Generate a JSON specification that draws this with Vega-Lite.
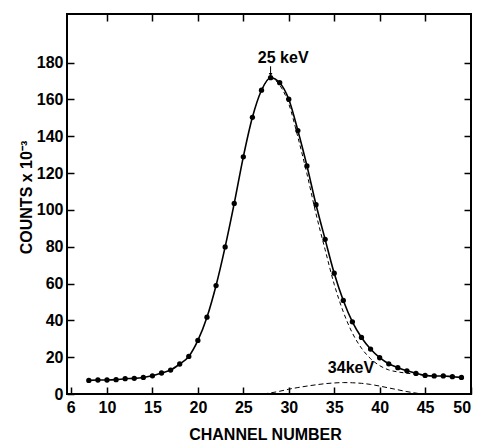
{
  "$schema": "https://vega.github.io/schema/vega-lite/v6.json",
  "width": 404,
  "height": 380,
  "autosize": {"type": "none"},
  "padding": {"left": 67, "top": 14, "right": 9, "bottom": 47},
  "background": "white",
  "config": {
    "view": {"stroke": "black", "strokeWidth": 2},
    "font": "Liberation Sans",
    "axis": {"domain": false, "grid": false, "tickColor": "black", "tickWidth": 1.5, "labelColor": "black", "titleColor": "black", "labelFont": "Liberation Sans", "titleFont": "Liberation Sans", "labelFontWeight": "bold", "titleFontWeight": "bold"}
  },
  "datasets": {
    "points": [
      {"channel": 8, "counts": 7.4}, {"channel": 9, "counts": 7.6}, {"channel": 10, "counts": 7.6},
      {"channel": 11, "counts": 7.8}, {"channel": 12, "counts": 8.3}, {"channel": 13, "counts": 8.5},
      {"channel": 14, "counts": 9.0}, {"channel": 15, "counts": 9.9}, {"channel": 16, "counts": 11.4},
      {"channel": 17, "counts": 13.0}, {"channel": 18, "counts": 16.3}, {"channel": 19, "counts": 20.4},
      {"channel": 20, "counts": 29.1}, {"channel": 21, "counts": 41.7}, {"channel": 22, "counts": 58.9},
      {"channel": 23, "counts": 79.9}, {"channel": 24, "counts": 103.5}, {"channel": 25, "counts": 128.8},
      {"channel": 26, "counts": 150.3}, {"channel": 27, "counts": 165.0}, {"channel": 28, "counts": 171.8},
      {"channel": 29, "counts": 169.1}, {"channel": 30, "counts": 160.1}, {"channel": 31, "counts": 143.1},
      {"channel": 32, "counts": 123.9}, {"channel": 33, "counts": 102.8}, {"channel": 34, "counts": 84.0},
      {"channel": 35, "counts": 65.6}, {"channel": 36, "counts": 50.8}, {"channel": 37, "counts": 39.2},
      {"channel": 38, "counts": 30.7}, {"channel": 39, "counts": 24.4}, {"channel": 40, "counts": 19.7},
      {"channel": 41, "counts": 16.4}, {"channel": 42, "counts": 14.3}, {"channel": 43, "counts": 12.6},
      {"channel": 44, "counts": 11.2}, {"channel": 45, "counts": 10.1}, {"channel": 46, "counts": 9.8},
      {"channel": 47, "counts": 9.8}, {"channel": 48, "counts": 9.4}, {"channel": 49, "counts": 9.0}
    ],
    "peak25": [
      {"channel": 27, "counts": 165.0}, {"channel": 28, "counts": 171.4}, {"channel": 29, "counts": 167.8},
      {"channel": 30, "counts": 157.6}, {"channel": 31, "counts": 139.6}, {"channel": 32, "counts": 119.6},
      {"channel": 33, "counts": 97.8}, {"channel": 34, "counts": 78.4}, {"channel": 35, "counts": 59.6},
      {"channel": 36, "counts": 44.6}, {"channel": 37, "counts": 33.1}, {"channel": 38, "counts": 24.9},
      {"channel": 39, "counts": 19.2}, {"channel": 40, "counts": 15.4}, {"channel": 41, "counts": 13.1},
      {"channel": 42, "counts": 12.0}, {"channel": 43, "counts": 11.3}, {"channel": 44, "counts": 10.7},
      {"channel": 45, "counts": 10.1}
    ],
    "peak34": [
      {"channel": 27.2, "counts": 0}, {"channel": 28, "counts": 0.6}, {"channel": 29, "counts": 1.5},
      {"channel": 30, "counts": 2.6}, {"channel": 31, "counts": 3.5}, {"channel": 32, "counts": 4.3},
      {"channel": 33, "counts": 5.0}, {"channel": 34, "counts": 5.6}, {"channel": 35, "counts": 6.0},
      {"channel": 36, "counts": 6.2}, {"channel": 37, "counts": 6.1}, {"channel": 38, "counts": 5.8},
      {"channel": 39, "counts": 5.2}, {"channel": 40, "counts": 4.3}, {"channel": 41, "counts": 3.3},
      {"channel": 42, "counts": 2.3}, {"channel": 43, "counts": 1.3}, {"channel": 44, "counts": 0.5},
      {"channel": 44.6, "counts": 0}
    ],
    "labels": [
      {"channel": 26.6, "counts": 180, "text": "25 keV"},
      {"channel": 34.3, "counts": 11.5, "text": "34keV"}
    ],
    "arrow": [
      {"channel": 28, "y1": 178, "y2": 173.5}
    ]
  },
  "layer": [
    {
      "data": {"name": "points"},
      "mark": {"type": "line", "color": "black", "strokeWidth": 1.6, "interpolate": "monotone"},
      "encoding": {
        "x": {"field": "channel", "type": "quantitative", "scale": {"domain": [5.6, 50.05], "nice": false, "zero": false},
          "axis": {"orient": "bottom", "values": [6, 10, 15, 20, 25, 30, 35, 40, 45, 50], "labelFontSize": 16, "tickSize": -7, "labelPadding": 12, "labelBaseline": "top",
            "title": "CHANNEL NUMBER", "titleFontSize": 16, "titleX": 198, "titleY": 45, "titleBaseline": "alphabetic", "titleAnchor": "middle"}},
        "y": {"field": "counts", "type": "quantitative", "scale": {"domain": [0, 206.4], "nice": false},
          "axis": {"orient": "left", "values": [0, 20, 40, 60, 80, 100, 120, 140, 160, 180], "labelFontSize": 16, "tickSize": -7, "labelPadding": 11,
            "title": "COUNTS  x 10⁻³", "titleFontSize": 16, "titleAngle": -90, "titleX": -33, "titleY": 183, "titleBaseline": "bottom", "titleAlign": "center"}}
      }
    },
    {
      "data": {"name": "points"},
      "mark": {"type": "point", "filled": true, "color": "black", "size": 28, "opacity": 1},
      "encoding": {
        "x": {"field": "channel", "type": "quantitative", "axis": {"orient": "top", "values": [10, 15, 20, 25, 30, 35, 40, 45], "labels": false, "tickSize": -7, "title": null}},
        "y": {"field": "counts", "type": "quantitative", "axis": {"orient": "right", "values": [20, 40, 60, 80, 100, 120, 140, 160, 180], "labels": false, "tickSize": -7, "title": null}}
      }
    },
    {
      "data": {"name": "peak25"},
      "mark": {"type": "line", "color": "black", "strokeWidth": 1, "strokeDash": [4, 3], "interpolate": "monotone"},
      "encoding": {
        "x": {"field": "channel", "type": "quantitative", "axis": null},
        "y": {"field": "counts", "type": "quantitative", "axis": null}
      }
    },
    {
      "data": {"name": "peak34"},
      "mark": {"type": "line", "color": "black", "strokeWidth": 1, "strokeDash": [5, 3], "interpolate": "monotone"},
      "encoding": {
        "x": {"field": "channel", "type": "quantitative", "axis": null},
        "y": {"field": "counts", "type": "quantitative", "axis": null}
      }
    },
    {
      "data": {"name": "labels"},
      "mark": {"type": "text", "align": "left", "baseline": "alphabetic", "fontSize": 16, "fontWeight": "bold", "color": "black"},
      "encoding": {
        "x": {"field": "channel", "type": "quantitative", "axis": null},
        "y": {"field": "counts", "type": "quantitative", "axis": null},
        "text": {"field": "text"}
      }
    },
    {
      "data": {"name": "arrow"},
      "mark": {"type": "rule", "color": "black", "strokeWidth": 1},
      "encoding": {
        "x": {"field": "channel", "type": "quantitative", "axis": null},
        "y": {"field": "y1", "type": "quantitative", "axis": null},
        "y2": {"field": "y2"}
      }
    },
    {
      "data": {"name": "arrow"},
      "mark": {"type": "point", "shape": "triangle-down", "filled": true, "color": "black", "size": 14, "opacity": 1},
      "encoding": {
        "x": {"field": "channel", "type": "quantitative", "axis": null},
        "y": {"field": "y2", "type": "quantitative", "axis": null}
      }
    }
  ],
  "resolve": {"axis": {"x": "independent", "y": "independent"}}
}
